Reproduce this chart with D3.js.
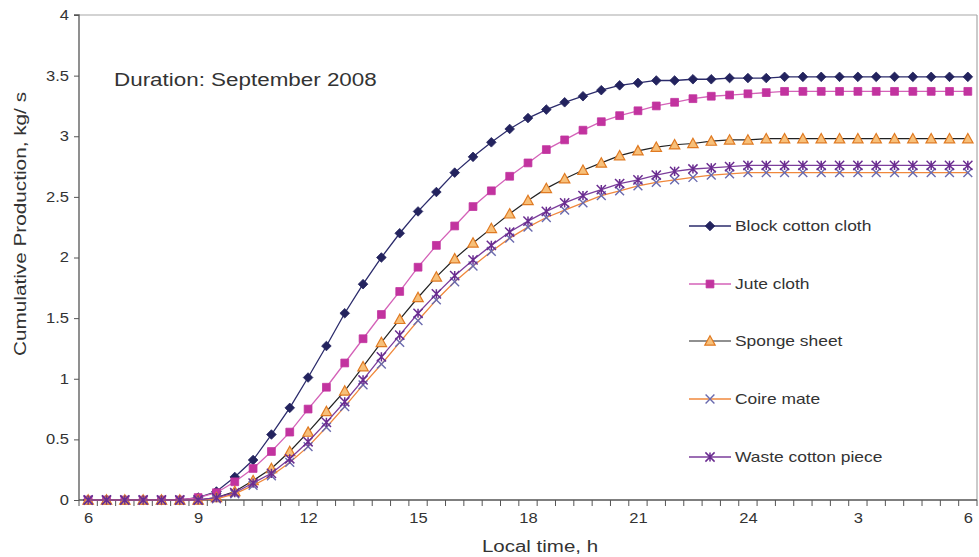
<!DOCTYPE html>
<html><head><meta charset="utf-8">
<script src="https://cdn.jsdelivr.net/npm/d3@7/dist/d3.min.js"></script>
<style>
html,body{margin:0;padding:0;background:#fff;}
text{font-family:"Liberation Sans",Arial,sans-serif;}
</style></head>
<body><svg id="c" width="979" height="557"></svg>
<script>
const hours = [6,6.5,7,7.5,8,8.5,9,9.5,10,10.5,11,11.5,12,12.5,13,13.5,14,14.5,15,15.5,16,16.5,17,17.5,18,18.5,19,19.5,20,20.5,21,21.5,22,22.5,23,23.5,24,24.5,25,25.5,26,26.5,27,27.5,28,28.5,29,29.5,30];
const tickLabels = ["6","9","12","15","18","21","24","3","6"];
const yTicks = [0,0.5,1,1.5,2,2.5,3,3.5,4];
const seriesNames = ["Block cotton cloth","Jute cloth","Sponge sheet","Coire mate","Waste cotton piece"];
const blockCotton = [0,0,0,0,0,0,0.02,0.07,0.19,0.33,0.54,0.76,1.01,1.27,1.54,1.78,2.00,2.20,2.38,2.54,2.70,2.83,2.95,3.06,3.15,3.22,3.28,3.33,3.38,3.42,3.44,3.46,3.46,3.47,3.47,3.48,3.48,3.48,3.49,3.49,3.49,3.49,3.49,3.49,3.49,3.49,3.49,3.49,3.49];
const juteCloth = [0,0,0,0,0,0,0.02,0.06,0.15,0.26,0.40,0.56,0.75,0.93,1.13,1.33,1.53,1.72,1.92,2.10,2.26,2.42,2.55,2.67,2.78,2.89,2.97,3.05,3.12,3.17,3.21,3.25,3.28,3.31,3.33,3.34,3.35,3.36,3.37,3.37,3.37,3.37,3.37,3.37,3.37,3.37,3.37,3.37,3.37];
const spongeSheet = [0,0,0,0,0,0,0,0.02,0.07,0.16,0.26,0.40,0.56,0.73,0.90,1.10,1.30,1.49,1.67,1.84,1.99,2.12,2.24,2.36,2.47,2.57,2.65,2.72,2.78,2.84,2.88,2.91,2.93,2.94,2.96,2.97,2.97,2.98,2.98,2.98,2.98,2.98,2.98,2.98,2.98,2.98,2.98,2.98,2.98];
const coireMate = [0,0,0,0,0,0,0,0.01,0.05,0.12,0.20,0.31,0.44,0.60,0.77,0.95,1.12,1.30,1.48,1.65,1.80,1.93,2.05,2.16,2.25,2.33,2.39,2.45,2.51,2.55,2.59,2.62,2.64,2.66,2.68,2.69,2.70,2.70,2.70,2.70,2.70,2.70,2.70,2.70,2.70,2.70,2.70,2.70,2.70];
const wasteCotton = [0,0,0,0,0,0,0,0.02,0.06,0.14,0.22,0.34,0.48,0.64,0.81,0.99,1.18,1.36,1.54,1.70,1.85,1.98,2.10,2.21,2.30,2.38,2.45,2.51,2.56,2.61,2.64,2.68,2.71,2.73,2.74,2.75,2.76,2.76,2.76,2.76,2.76,2.76,2.76,2.76,2.76,2.76,2.76,2.76,2.76];

const svg = d3.select("#c");
const L = 79, R = 977, T = 15, B = 500;
const x = d3.scalePoint().domain(hours.map((h,i)=>i)).range([L,R]).padding(0.5);
const y = d3.scaleLinear().domain([0,4]).range([B,T]);
const step = x.step();

// horizontal stretch of text (the reference image is widened)
function stretch(sel, f){
  sel.each(function(){
    const w = this.getComputedTextLength();
    d3.select(this).attr("textLength", w*f).attr("lengthAdjust","spacingAndGlyphs");
  });
}

// frame (top & right, light gray)
svg.append("line").attr("x1",L).attr("x2",R).attr("y1",T).attr("y2",T).attr("stroke","#a8a8a8").attr("stroke-width",1.2);
svg.append("line").attr("x1",R).attr("x2",R).attr("y1",T).attr("y2",B).attr("stroke","#a8a8a8").attr("stroke-width",1.2);

// y axis
const yAxis = d3.axisLeft(y).tickValues(yTicks).tickSize(5).tickPadding(5).tickFormat(d=>String(d));
const gy = svg.append("g").attr("transform",`translate(${L},0)`).call(yAxis);
gy.select(".domain").attr("stroke","#555").attr("stroke-width",1.3).attr("d",`M-5,${T}H0V${B}`);
gy.selectAll(".tick line").attr("stroke","#555");
gy.selectAll("text").attr("font-size",14).attr("fill","#333").call(stretch,1.18);

// x axis
const labelIdx = hours.map((h,i)=>i).filter(i=>i%6===0);
const xAxis = d3.axisBottom(x).tickValues(labelIdx).tickSize(0).tickPadding(13).tickFormat((d,k)=>tickLabels[k]);
const gx = svg.append("g").attr("transform",`translate(0,${B})`).call(xAxis);
gx.select(".domain").attr("stroke","#555").attr("stroke-width",1.3).attr("d",`M${L},0H${R}`);
gx.selectAll("text").attr("font-size",14).attr("fill","#333").call(stretch,1.18);
const bounds = hours.map((h,i)=>x(i)-step/2).concat([x(hours.length-1)+step/2]);
gx.selectAll(".minor").data(bounds).enter().append("line")
  .attr("x1",d=>d).attr("x2",d=>d).attr("y1",0).attr("y2",6).attr("stroke","#555").attr("stroke-width",1);

// axis titles
svg.append("text").attr("x",540).attr("y",552).attr("text-anchor","middle").attr("font-size",16).attr("fill","#333").text("Local time, h").call(stretch,1.28);
svg.append("text").attr("transform","translate(26,224) rotate(-90)").attr("text-anchor","middle").attr("font-size",16.5).attr("fill","#333")
  .attr("textLength",264).attr("lengthAdjust","spacingAndGlyphs").text("Cumulative Production, kg/ s");

// annotation
svg.append("text").attr("x",114).attr("y",86).attr("font-size",17.5).attr("fill","#333").text("Duration: September 2008").call(stretch,1.28);

// marker shapes
const diamond = s=>`M0,${-s}L${s},0L0,${s}L${-s},0Z`;
const square = s=>`M${-s},${-s}H${s}V${s}H${-s}Z`;
const triangle = s=>`M0,${-s}L${s},${s*0.8}L${-s},${s*0.8}Z`;
const cross = s=>`M${-s},${-s}L${s},${s}M${s},${-s}L${-s},${s}`;
const star = s=>`M${-s},${-s}L${s},${s}M${s},${-s}L${-s},${s}M0,${-s}V${s}`;

const series = [
  {name:seriesNames[0], values:blockCotton, line:"#2b2b6b", lw:1.3, path:diamond(4.8), fill:"#23235e", stroke:"#23235e", sw:0.8},
  {name:seriesNames[1], values:juteCloth, line:"#d462b8", lw:1.3, path:square(3.9), fill:"#c2339f", stroke:"#c2339f", sw:0.8},
  {name:seriesNames[2], values:spongeSheet, line:"#222", lw:1.2, path:triangle(5.2), fill:"#f7c07a", stroke:"#e07a22", sw:1.2},
  {name:seriesNames[3], values:coireMate, line:"#f0883c", lw:1.3, path:cross(4.4), fill:"none", stroke:"#6a6aae", sw:1.4},
  {name:seriesNames[4], values:wasteCotton, line:"#7b3d9b", lw:1.3, path:star(4.6), fill:"none", stroke:"#6a2c90", sw:1.5}
];

const lineGen = d3.line().x((d,i)=>x(i)).y(d=>y(d));
series.forEach(s=>{
  const g = svg.append("g");
  g.append("path").datum(s.values).attr("d",lineGen).attr("fill","none").attr("stroke",s.line).attr("stroke-width",s.lw);
  g.selectAll(".m").data(s.values).enter().append("path")
    .attr("transform",(d,i)=>`translate(${x(i)},${y(d)})`).attr("d",s.path)
    .attr("fill",s.fill).attr("stroke",s.stroke).attr("stroke-width",s.sw);
});

// legend
const legY = [226,284,341,399,457];
series.forEach((s,k)=>{
  const g = svg.append("g").attr("transform",`translate(0,${legY[k]})`);
  g.append("line").attr("x1",689).attr("x2",731).attr("y1",0).attr("y2",0).attr("stroke",s.line).attr("stroke-width",s.lw);
  g.append("path").attr("transform","translate(710,0)").attr("d",s.path).attr("fill",s.fill).attr("stroke",s.stroke).attr("stroke-width",s.sw);
  g.append("text").attr("x",735).attr("y",5).attr("font-size",14.5).attr("fill","#333").text(s.name).call(stretch,1.2);
});
</script></body></html>
